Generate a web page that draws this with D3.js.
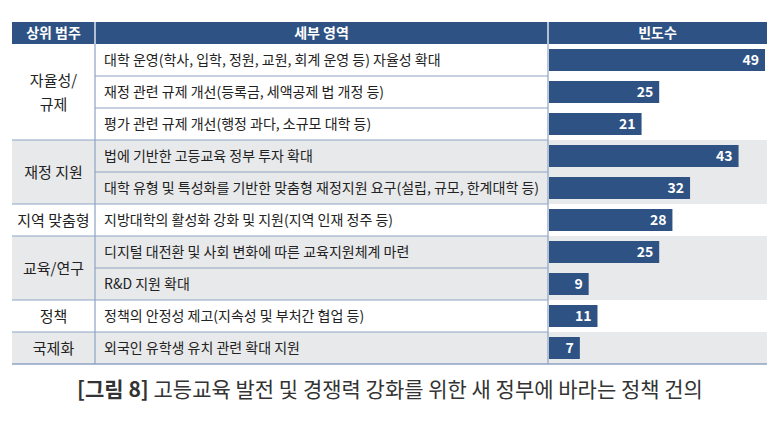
<!DOCTYPE html>
<html><head><meta charset="utf-8">
<script src="https://cdn.jsdelivr.net/npm/d3@7"></script>
<style>body{margin:0;background:#fff}svg{font-family:"Noto Sans CJK KR","Noto Sans",sans-serif}</style>
</head><body><svg id="chart" width="780" height="424"></svg>
<script>
var headers = ["상위 범주", "세부 영역", "빈도수"];
var groups = [
  {name: ["자율성/", "규제"], size: 3},
  {name: ["재정 지원"], size: 2},
  {name: ["지역 맞춤형"], size: 1},
  {name: ["교육/연구"], size: 2},
  {name: ["정책"], size: 1},
  {name: ["국제화"], size: 1}
];
var details = [
  "대학 운영(학사, 입학, 정원, 교원, 회계 운영 등) 자율성 확대",
  "재정 관련 규제 개선(등록금, 세액공제 법 개정 등)",
  "평가 관련 규제 개선(행정 과다, 소규모 대학 등)",
  "법에 기반한 고등교육 정부 투자 확대",
  "대학 유형 및 특성화를 기반한 맞춤형 재정지원 요구(설립, 규모, 한계대학 등)",
  "지방대학의 활성화 강화 및 지원(지역 인재 정주 등)",
  "디지털 대전환 및 사회 변화에 따른 교육지원체계 마련",
  "R&D 지원 확대",
  "정책의 안정성 제고(지속성 및 부처간 협업 등)",
  "외국인 유학생 유치 관련 확대 지원"
];
var counts = [49, 25, 21, 43, 32, 28, 25, 9, 11, 7];

var svg = d3.select("#chart");
var x0 = 12, x1 = 95, x2 = 548, x3 = 767;
var tableTop = 22, headH = 22, rowH = 32;
var blue = "#2e5283", line = "#8ea3c3";

var y = d3.scaleBand().domain(d3.range(details.length))
  .range([tableTop + headH, tableTop + headH + rowH * details.length]);
var x = d3.scaleLinear().domain([0, 49]).range([x2 + 1, 765]);

// header
svg.append("rect").attr("x", x0).attr("y", tableTop).attr("width", x3 - x0).attr("height", headH).attr("fill", blue);
[[x0, x1], [x1, x2], [x2, x3]].forEach(function(c, i) {
  svg.append("text").attr("x", (c[0] + c[1]) / 2).attr("y", tableTop + headH / 2 + 5)
    .attr("text-anchor", "middle").attr("fill", "#fff").attr("font-size", 14).attr("font-weight", "bold")
    .text(headers[i]);
});
[x1, x2].forEach(function(v) {
  svg.append("line").attr("x1", v).attr("x2", v).attr("y1", tableTop).attr("y2", tableTop + headH).attr("stroke", "#dfe6f0").attr("stroke-width", 1.5);
});

// groups
var start = 0;
groups.forEach(function(g, gi) {
  var gy = y(start), gh = rowH * g.size;
  svg.append("rect").attr("x", x0).attr("y", gy).attr("width", x3 - x0).attr("height", gh)
    .attr("fill", gi % 2 ? "#e8e9eb" : "#fff");
  g.name.forEach(function(t, k) {
    svg.append("text").attr("x", (x0 + x1) / 2)
      .attr("y", gy + gh / 2 + 6 + (k - (g.name.length - 1) / 2) * 24)
      .attr("text-anchor", "middle").attr("font-size", 15).attr("fill", "#222").text(t);
  });
  for (var i = 1; i < g.size; i++) {
    svg.append("line").attr("x1", x1).attr("x2", x2).attr("y1", y(start + i)).attr("y2", y(start + i))
      .attr("stroke", line).attr("stroke-width", 1.2);
  }
  if (gi > 0) svg.append("line").attr("x1", x0).attr("x2", x2).attr("y1", gy).attr("y2", gy)
    .attr("stroke", line).attr("stroke-width", 1.2);
  start += g.size;
});
var bottom = y.range()[1];
svg.append("line").attr("x1", x0).attr("x2", x3).attr("y1", bottom).attr("y2", bottom).attr("stroke", line).attr("stroke-width", 1.5);
[x1, x2].forEach(function(v) {
  svg.append("line").attr("x1", v).attr("x2", v).attr("y1", tableTop + headH).attr("y2", bottom).attr("stroke", line).attr("stroke-width", 1.2);
});

// detail text
svg.selectAll(".det").data(details).enter().append("text")
  .attr("x", x1 + 9).attr("y", function(d, i) { return y(i) + rowH / 2 + 5; })
  .attr("font-size", 14).attr("fill", "#222").text(function(d) { return d; });

// bars
svg.selectAll(".bar").data(counts).enter().append("rect")
  .attr("x", x(0)).attr("y", function(d, i) { return y(i) + 5; })
  .attr("width", function(d) { return x(d) - x(0); }).attr("height", rowH - 10)
  .attr("fill", blue);
svg.selectAll(".val").data(counts).enter().append("text")
  .attr("x", function(d) { return x(d) - 6; }).attr("y", function(d, i) { return y(i) + rowH / 2 + 5; })
  .attr("text-anchor", "end").attr("font-size", 14).attr("font-weight", "bold").attr("fill", "#fff")
  .text(function(d) { return d; });

// caption
var cap = svg.append("text").attr("x", 390).attr("y", 397).attr("text-anchor", "middle")
  .attr("font-size", 21).attr("fill", "#333");
cap.append("tspan").attr("font-weight", "bold").text("[그림 8] ");
cap.append("tspan").text("고등교육 발전 및 경쟁력 강화를 위한 새 정부에 바라는 정책 건의");
</script></body></html>
